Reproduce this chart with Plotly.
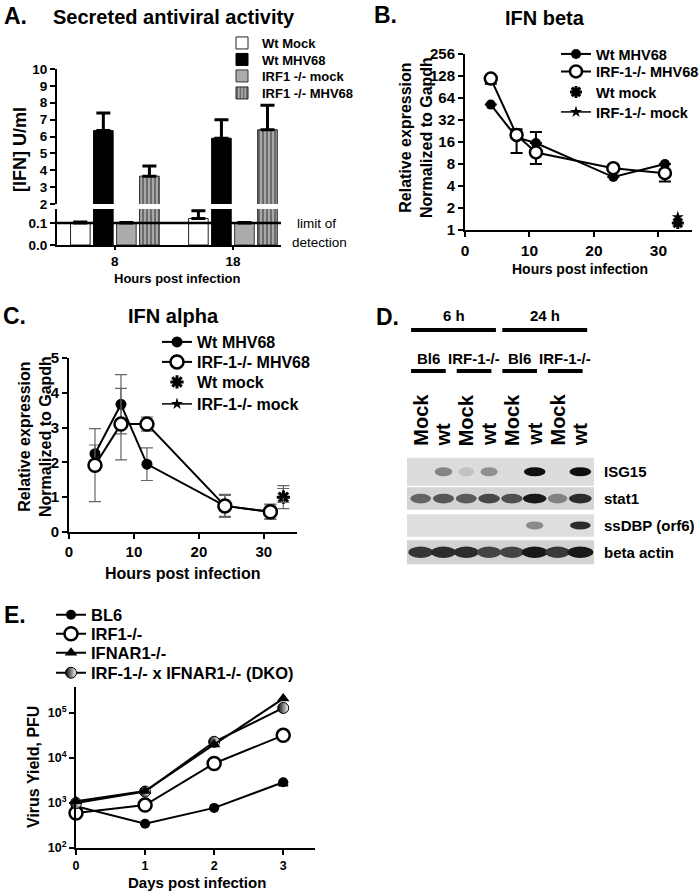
import math
import plotly.graph_objects as go

W, H = 700, 893
FONT = "Liberation Sans, Arial, Helvetica, sans-serif"


def fx(p):
    return p / W


def fy(p):
    return 1 - p / H


# ---------------- Panel A data ----------------
a_hours = ["8", "18"]
a_names = ["Wt Mock", "Wt MHV68", "IRF1 -/- mock", "IRF1 -/- MHV68"]
a_wt_mock = [0.10, 0.12]
a_wt_mock_err = [0.004, 0.035]
a_wt_mhv = [6.35, 5.9]
a_wt_mhv_err = [1.05, 1.1]
a_irf_mock = [0.10, 0.10]
a_irf_mock_err = [0.002, 0.002]
a_irf_mhv = [3.65, 6.4]
a_irf_mhv_err = [0.6, 1.45]
a_limit = 0.1

# ---------------- Panel B data ----------------
b_x = [4, 8, 11, 23, 31]
b_wt = [52, 18.5, 15.5, 5.3, 8.0]
b_wt_up = [0, 0, 6.5, 0, 0]
b_wt_dn = [0, 7.2, 0, 0, 0]
b_irf = [118, 20, 11.5, 7.0, 6.0]
b_irf_up = [0, 4, 0, 0, 0]
b_irf_dn = [18, 0, 3.5, 0, 1.4]
b_mock_x = [33]
b_wt_mock = [1.25]
b_irf_mock = [1.5]

# ---------------- Panel C data ----------------
c_x = [4, 8, 12, 24, 31]
c_wt = [2.25, 3.67, 1.95, 0.75, 0.58]
c_wt_err = [0.25, 0.85, 0.47, 0.3, 0.2]
c_irf = [1.92, 3.1, 3.1, 0.75, 0.58]
c_irf_err = [1.05, 1.03, 0.2, 0.33, 0.22]
c_mock_x = [33]
c_wt_mock = [1.0]
c_wt_mock_err = [0.33]
c_irf_mock = [1.05]
c_irf_mock_err = [0.2]

# ---------------- Panel D data (band intensities, 0..1) ----------------
d_lanes = [1, 2, 3, 4, 5, 6, 7, 8]
d_lane_labels = ["Mock", "wt", "Mock", "wt", "Mock", "wt", "Mock", "wt"]
d_rows = ["ISG15", "stat1", "ssDBP (orf6)", "beta actin"]
d_isg15 = [0.0, 0.38, 0.06, 0.32, 0.04, 1.0, 0.0, 1.0]
d_stat1 = [0.55, 0.62, 0.6, 0.7, 0.66, 0.95, 0.4, 0.85]
d_ssdbp = [0.0, 0.0, 0.0, 0.0, 0.0, 0.35, 0.0, 0.85]
d_actin = [0.8, 0.85, 0.85, 0.72, 0.72, 0.95, 0.78, 0.95]
d_time_groups = ["6 h", "24 h"]
d_strain_groups = ["Bl6", "IRF-1-/-", "Bl6", "IRF-1-/-"]

# ---------------- Panel E data ----------------
e_days = [0, 1, 2, 3]
e_bl6 = [850, 345, 780, 2900]
e_bl6_dn = [0, 0, 0, 450]
e_irf1 = [600, 900, 7600, 32000]
e_ifnar = [1100, 1850, 20000, 210000]
e_dko = [1000, 1800, 23000, 130000]

fig = go.Figure()
legends = {}
_leg_count = [0]


def new_legend(x_left, y_mid, size):
    """One legend per entry so that every row sits where the reference puts it."""
    _leg_count[0] += 1
    n = _leg_count[0]
    name = "legend" if n == 1 else f"legend{n}"
    legends[name] = dict(x=fx(x_left), y=fy(y_mid), xanchor="left", yanchor="middle",
                         bgcolor="rgba(0,0,0,0)", borderwidth=0,
                         itemclick=False, itemdoubleclick=False,
                         font=dict(size=size, color="black", weight="bold", family=FONT))
    return name


# ---- Panel A bars (drawn in upper and lower broken-axis subplots)
a_vals = [a_wt_mock, a_wt_mhv, a_irf_mock, a_irf_mhv]
a_errs = [a_wt_mock_err, a_wt_mhv_err, a_irf_mock_err, a_irf_mhv_err]
a_fill = ["white", "black", "#ababab", "#a0a0a0"]
a_edge = ["#222", "black", "#333", "#222"]
a_leg_rows = [43, 59.5, 76, 93]
for i in range(4):
    lg = new_legend(222, a_leg_rows[i], 13)
    for sub, (xa, ya) in enumerate([("x", "y"), ("x2", "y2")]):
        marker = dict(color=a_fill[i], line=dict(color=a_edge[i], width=1))
        if i == 3:
            marker["pattern"] = dict(shape="|", fgcolor="#111", bgcolor="#a8a8a8",
                                     size=4, solidity=0.4)
        fig.add_bar(
            x=a_hours, y=a_vals[i], name=a_names[i], marker=marker,
            error_y=dict(type="data", array=a_errs[i], arrayminus=[0, 0],
                         symmetric=False, color="black", thickness=3, width=7),
            xaxis=xa, yaxis=ya, showlegend=(sub == 0), legend=lg,
            offsetgroup=str(i), hoverinfo="skip",
        )

# ---- Panel B
errb = dict(color="black", thickness=2, width=6)
b_rows = [54, 71.5, 92, 112]
fig.add_scatter(x=b_x, y=b_wt, mode="lines+markers", name="Wt MHV68",
                line=dict(color="black", width=2),
                marker=dict(symbol="circle", size=10, color="black"),
                error_y=dict(type="data", array=b_wt_up, arrayminus=b_wt_dn,
                             symmetric=False, **errb),
                xaxis="x3", yaxis="y3", legend=new_legend(556, b_rows[0], 14.5),
                cliponaxis=False)
fig.add_scatter(x=b_x, y=b_irf, mode="lines+markers", name="IRF-1-/- MHV68",
                line=dict(color="black", width=2),
                marker=dict(symbol="circle", size=12, color="white",
                            line=dict(color="black", width=2.5)),
                error_y=dict(type="data", array=b_irf_up, arrayminus=b_irf_dn,
                             symmetric=False, **errb),
                xaxis="x3", yaxis="y3", legend=new_legend(556, b_rows[1], 14.5),
                cliponaxis=False)
fig.add_scatter(x=b_mock_x, y=b_wt_mock, mode="markers", name="Wt mock",
                marker=dict(symbol="asterisk-open", size=10, color="black",
                            line=dict(color="black", width=3)),
                xaxis="x3", yaxis="y3", legend=new_legend(556, b_rows[2], 14.5),
                cliponaxis=False)
fig.add_scatter(x=b_mock_x, y=b_irf_mock, mode="lines+markers", name="IRF-1-/- mock",
                line=dict(color="black", width=1.5),
                marker=dict(symbol="star", size=9, color="black"),
                xaxis="x3", yaxis="y3", legend=new_legend(556, b_rows[3], 14.5),
                cliponaxis=False)

# ---- Panel C
errc = dict(color="#666", thickness=1.2, width=6)
c_rows = [342, 362, 382, 404]
fig.add_scatter(x=c_x, y=c_wt, mode="lines+markers", name="Wt MHV68",
                line=dict(color="black", width=2),
                marker=dict(symbol="circle", size=11, color="black"),
                error_y=dict(type="data", array=c_wt_err, **errc),
                xaxis="x4", yaxis="y4", legend=new_legend(157, c_rows[0], 16),
                cliponaxis=False)
fig.add_scatter(x=c_x, y=c_irf, mode="lines+markers", name="IRF-1-/- MHV68",
                line=dict(color="black", width=2),
                marker=dict(symbol="circle", size=13, color="white",
                            line=dict(color="black", width=2.5)),
                error_y=dict(type="data", array=c_irf_err, **errc),
                xaxis="x4", yaxis="y4", legend=new_legend(157, c_rows[1], 16),
                cliponaxis=False)
fig.add_scatter(x=c_mock_x, y=c_wt_mock, mode="markers", name="Wt mock",
                marker=dict(symbol="asterisk-open", size=11, color="black",
                            line=dict(color="black", width=3)),
                error_y=dict(type="data", array=c_wt_mock_err, **errc),
                xaxis="x4", yaxis="y4", legend=new_legend(157, c_rows[2], 16),
                cliponaxis=False)
fig.add_scatter(x=c_mock_x, y=c_irf_mock, mode="lines+markers", name="IRF-1-/- mock",
                line=dict(color="black", width=1.5),
                marker=dict(symbol="star", size=9, color="black"),
                error_y=dict(type="data", array=c_irf_mock_err, **errc),
                xaxis="x4", yaxis="y4", legend=new_legend(157, c_rows[3], 16),
                cliponaxis=False)

# ---- Panel D (anchor trace for blot axes, invisible)
fig.add_scatter(x=d_lanes, y=[0] * len(d_lanes), mode="markers",
                marker=dict(size=1, color="rgba(0,0,0,0)"), showlegend=False,
                hoverinfo="skip", xaxis="x5", yaxis="y5")

# ---- Panel E
e_rows = [615, 634, 653, 673]
fig.add_scatter(x=e_days, y=e_bl6, mode="lines+markers", name="BL6",
                line=dict(color="black", width=2),
                marker=dict(symbol="circle", size=10, color="black"),
                error_y=dict(type="data", array=[0, 0, 0, 0], arrayminus=e_bl6_dn,
                             symmetric=False, color="black", thickness=2, width=5),
                xaxis="x6", yaxis="y6", legend=new_legend(51, e_rows[0], 16.5),
                cliponaxis=False)
fig.add_scatter(x=e_days, y=e_irf1, mode="lines+markers", name="IRF1-/-",
                line=dict(color="black", width=2),
                marker=dict(symbol="circle", size=13, color="white",
                            line=dict(color="black", width=2.5)),
                xaxis="x6", yaxis="y6", legend=new_legend(51, e_rows[1], 16.5),
                cliponaxis=False)
leg_ifnar = new_legend(51, e_rows[2], 16.5)
leg_dko = new_legend(51, e_rows[3], 16.5)
fig.add_scatter(x=e_days, y=e_dko, mode="lines+markers", name="IRF-1-/- x IFNAR1-/- (DKO)",
                line=dict(color="black", width=2),
                marker=dict(symbol="circle", size=11, color="black",
                            gradient=dict(type="horizontal", color="white"),
                            line=dict(color="black", width=1)),
                xaxis="x6", yaxis="y6", legend=leg_dko, cliponaxis=False)
fig.add_scatter(x=e_days, y=e_ifnar, mode="lines+markers", name="IFNAR1-/-",
                line=dict(color="black", width=2),
                marker=dict(symbol="triangle-up", size=11, color="black"),
                xaxis="x6", yaxis="y6", legend=leg_ifnar, cliponaxis=False)


def ax(size=14, **kw):
    base = dict(showline=True, linecolor="black", linewidth=2, ticks="outside",
                ticklen=5, tickwidth=2, tickcolor="black", showgrid=False,
                zeroline=False, mirror=False, automargin=False,
                tickfont=dict(size=size, color="black", weight="bold", family=FONT))
    base.update(kw)
    return base


a_xrange = [-0.49, 1.407]
layout_axes = dict(
    xaxis=dict(domain=[fx(57), fx(281)], type="category", range=a_xrange,
               visible=False, anchor="y"),
    yaxis=ax(13.5, domain=[fy(204), fy(69)], range=[2, 10], tickvals=list(range(2, 11)),
             anchor="x"),
    xaxis2=ax(13.5, domain=[fx(57), fx(281)], type="category", range=a_xrange,
              anchor="y2", ticklen=3),
    yaxis2=ax(13.5, domain=[fy(245), fy(209)], range=[0, 0.163], tickvals=[0, 0.1],
              ticktext=["0.0", "0.1"], anchor="x2"),
    xaxis3=ax(15.5, domain=[fx(465), fx(692)], range=[0, 35.2], tickvals=[0, 10, 20, 30],
              anchor="y3"),
    yaxis3=ax(15, domain=[fy(230), fy(54)], type="log", range=[0, math.log10(256)],
              tickvals=[1, 2, 4, 8, 16, 32, 64, 128, 256], anchor="x3"),
    xaxis4=ax(15, domain=[fx(69), fx(297)], range=[0, 35.1], tickvals=[0, 10, 20, 30],
              anchor="y4"),
    yaxis4=ax(15, domain=[fy(532), fy(358)], range=[0, 5], tickvals=[0, 1, 2, 3, 4, 5],
              anchor="x4"),
    xaxis5=dict(domain=[fx(407), fx(594)], range=[0.4, 8.6], visible=False, anchor="y5"),
    yaxis5=dict(domain=[fy(567), fy(457)], range=[3.55, -0.55], visible=False, anchor="x5"),
    xaxis6=ax(12.5, domain=[fx(76), fx(315)], range=[0, 3.46], tickvals=[0, 1, 2, 3],
              anchor="y6"),
    yaxis6=ax(12.5, domain=[fy(848), fy(687)], type="log", range=[2, 5.58],
              tickvals=[1e2, 1e3, 1e4, 1e5],
              ticktext=["10<sup>2</sup>", "10<sup>3</sup>", "10<sup>4</sup>", "10<sup>5</sup>"],
              anchor="x6"),
)

# ---------------- annotations ----------------
ann = []


def text(x, y, s, size, xanchor="center", angle=0, bold=True, yanchor="middle"):
    ann.append(dict(x=fx(x), y=fy(y), xref="paper", yref="paper", text=s, showarrow=False,
                    xanchor=xanchor, yanchor=yanchor, textangle=angle,
                    font=dict(size=size, color="black", family=FONT,
                              weight="bold" if bold else "normal")))


# Panel A
text(2, 16, "A.", 23, xanchor="left")
text(174, 17, "Secreted antiviral activity", 20)
text(20, 150, "[IFN] U/ml", 18, angle=-90)
text(177, 278, "Hours post infection", 13)
text(295, 223, "limit of", 13.5, xanchor="left", bold=False)
text(290, 243, "detection", 13.5, xanchor="left", bold=False)
# Panel B
text(372, 15, "B.", 23, xanchor="left")
text(545, 18, "IFN beta", 20)
text(416, 138, "Relative expression<br>Normalized to Gapdh", 16, angle=-90)
text(580, 269, "Hours post infection", 14)
# Panel C
text(1, 316, "C.", 23, xanchor="left")
text(173, 316, "IFN alpha", 20)
text(35, 437, "Relative expression<br>Normalized to Gapdh", 16, angle=-90)
text(183, 573, "Hours post infection", 16)
# Panel D
text(374, 317, "D.", 23, xanchor="left")
# Panel E
text(2, 615, "E.", 23, xanchor="left")
text(33, 767, "Virus Yield, PFU", 16, angle=-90)
text(197, 882, "Days post infection", 15)

# ---- Panel D shapes and labels (blot drawn on the x5/y5 axes)
shapes = []
# Limit-of-detection line in panel A
shapes.append(dict(type="line", xref="x2 domain", yref="y2", x0=0, x1=1,
                   y0=a_limit, y1=a_limit, line=dict(color="black", width=2.5)))

d_data = [d_isg15, d_stat1, d_ssdbp, d_actin]
strip_half = [0.52, 0.42, 0.42, 0.45]
band_w = [0.95, 1.05, 0.95, 1.15]
band_h = [0.34, 0.36, 0.3, 0.42]
strip_bg = ["#dcdcdc", "#d4d4d4", "#dedede", "#d2d2d2"]
for r, vals in enumerate(d_data):
    shapes.append(dict(type="rect", xref="x5", yref="y5", x0=0.4, x1=8.6,
                       y0=r - strip_half[r], y1=r + strip_half[r],
                       fillcolor=strip_bg[r], line=dict(width=0), layer="above"))
    for lane, v in zip(d_lanes, vals):
        if v <= 0.05:
            continue
        g = int(round(205 - 190 * v))
        w = band_w[r] * (0.7 + 0.3 * v)
        shapes.append(dict(type="circle", xref="x5", yref="y5",
                           x0=lane - w / 2, x1=lane + w / 2,
                           y0=r - band_h[r] / 2, y1=r + band_h[r] / 2,
                           fillcolor=f"rgb({g},{g},{g})", line=dict(width=0),
                           layer="above"))
    ann.append(dict(x=fx(602), y=r, xref="paper", yref="y5", text=d_rows[r],
                    showarrow=False, xanchor="left", yanchor="middle",
                    font=dict(size=15, color="black", weight="bold", family=FONT)))

# lane labels
for lane, lab in zip(d_lanes, d_lane_labels):
    ann.append(dict(x=lane, y=fy(448), xref="x5", yref="paper", text=lab,
                    showarrow=False, textangle=-90, xanchor="center", yanchor="bottom",
                    font=dict(size=20, color="black", weight="bold", family=FONT)))

# time groups (lanes 1-4, 5-8)
for k, lab in enumerate(d_time_groups):
    lo, hi = d_lanes[4 * k], d_lanes[4 * k + 3]
    shapes.append(dict(type="line", xref="x5", yref="paper", x0=lo - 0.42, x1=hi + 0.3,
                       y0=fy(330), y1=fy(330), line=dict(color="black", width=4)))
    ann.append(dict(x=(lo + hi) / 2 - 0.05, y=fy(316), xref="x5", yref="paper", text=lab,
                    showarrow=False,
                    font=dict(size=15, color="black", weight="bold", family=FONT)))
# strain groups (pairs of lanes)
for k, lab in enumerate(d_strain_groups):
    lo, hi = d_lanes[2 * k], d_lanes[2 * k + 1]
    shapes.append(dict(type="line", xref="x5", yref="paper", x0=lo - 0.42, x1=hi + 0.1,
                       y0=fy(371), y1=fy(371), line=dict(color="black", width=4)))
    ann.append(dict(x=(lo + hi) / 2 - 0.15, y=fy(358), xref="x5", yref="paper", text=lab,
                    showarrow=False,
                    font=dict(size=15, color="black", weight="bold", family=FONT)))

fig.update_layout(
    width=W, height=H, margin=dict(l=0, r=0, t=0, b=0, pad=0, autoexpand=False),
    paper_bgcolor="white", plot_bgcolor="rgba(0,0,0,0)",
    font=dict(family=FONT, color="black", weight="bold"),
    barmode="group", bargap=0.22, bargroupgap=0.15,
    annotations=ann, shapes=shapes, hovermode=False,
    **layout_axes, **legends,
)

fig.write_html("out.html", config={"displayModeBar": False},
               post_script="document.body.style.margin='0';")
